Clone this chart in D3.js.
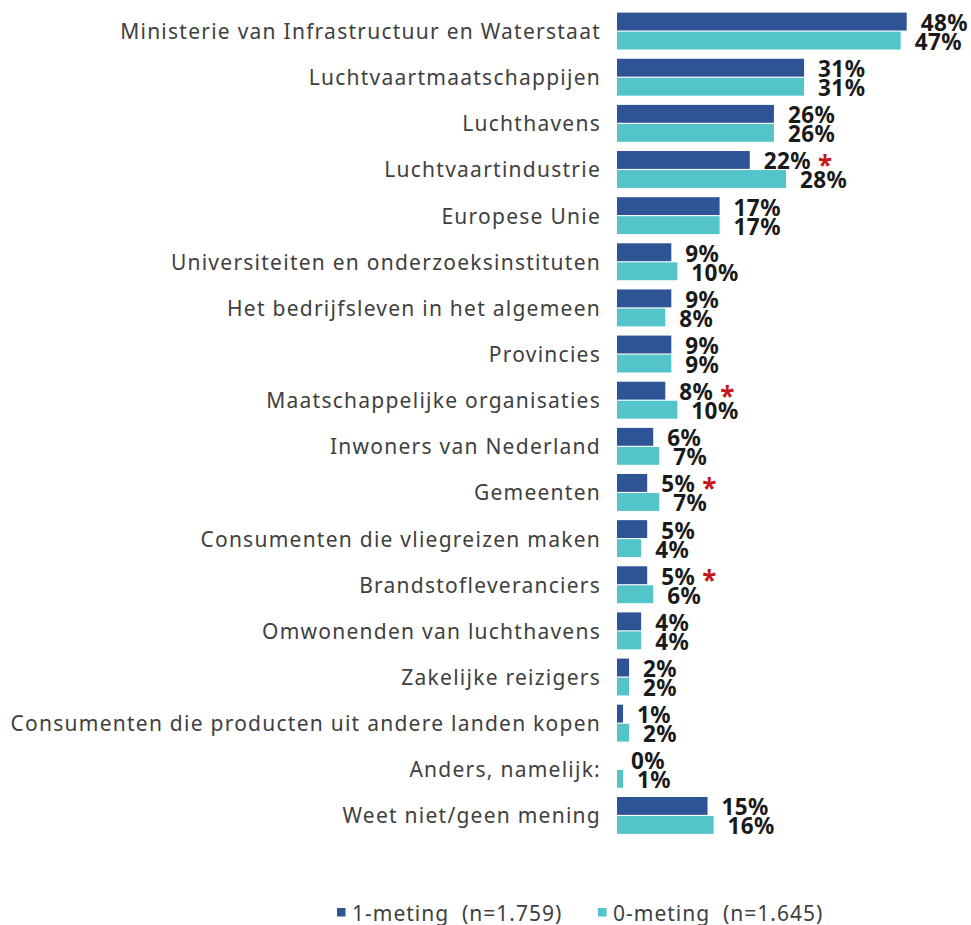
<!DOCTYPE html>
<html>
<head>
<meta charset="utf-8">
<script src="https://cdn.jsdelivr.net/npm/d3@7"></script>
<style>
  html, body { margin: 0; padding: 0; background: #ffffff; }
  svg { display: block; }
</style>
</head>
<body>
<div id="chart"></div>
<script>
const categories = [
  "Ministerie van Infrastructuur en Waterstaat",
  "Luchtvaartmaatschappijen",
  "Luchthavens",
  "Luchtvaartindustrie",
  "Europese Unie",
  "Universiteiten en onderzoeksinstituten",
  "Het bedrijfsleven in het algemeen",
  "Provincies",
  "Maatschappelijke organisaties",
  "Inwoners van Nederland",
  "Gemeenten",
  "Consumenten die vliegreizen maken",
  "Brandstofleveranciers",
  "Omwonenden van luchthavens",
  "Zakelijke reizigers",
  "Consumenten die producten uit andere landen kopen",
  "Anders, namelijk:",
  "Weet niet/geen mening"
];
const meting1 = [48, 31, 26, 22, 17, 9, 9, 9, 8, 6, 5, 5, 5, 4, 2, 1, 0, 15];
const meting0 = [47, 31, 26, 28, 17, 10, 8, 9, 10, 7, 7, 4, 6, 4, 2, 2, 1, 16];
const significant = [false, false, false, true, false, false, false, false, true, false, true, false, true, false, false, false, false, false];
const seriesNames = ["1-meting  (n=1.759)", "0-meting  (n=1.645)"];

const W = 971, H = 925;
const colors = ["#2E5495", "#52C4CA"];
const FONT = "'Noto Sans', 'Open Sans', sans-serif";

const svg = d3.select("#chart").append("svg").attr("width", W).attr("height", H);

const x = d3.scaleLinear().domain([0, 48]).range([617, 906.7]);
const y = d3.scaleBand().domain(categories).range([8, 838.5]).paddingInner(0.2).paddingOuter(0.1);
const inner = d3.scaleBand().domain([0, 1]).range([0, y.bandwidth()]).paddingInner(0.06);

const rows = categories.map((c, i) => ({ c, i, vals: [meting1[i], meting0[i]], sig: significant[i] }));

// category labels
svg.append("g").selectAll("text").data(rows).join("text")
  .attr("x", 601)
  .attr("y", d => y(d.c) + y.bandwidth() / 2)
  .attr("text-anchor", "end")
  .attr("dominant-baseline", "central")
  .attr("font-family", FONT)
  .attr("font-size", 21)
  .attr("letter-spacing", 1.25)
  .attr("fill", "#404040")
  .text(d => d.c);

const g = svg.append("g").selectAll("g").data(rows).join("g")
  .attr("transform", d => `translate(0,${y(d.c)})`);

g.selectAll("rect").data(d => d.vals.map((v, s) => ({ v, s }))).join("rect")
  .attr("x", x(0))
  .attr("y", d => inner(d.s))
  .attr("width", d => x(d.v) - x(0))
  .attr("height", inner.bandwidth())
  .attr("fill", d => colors[d.s]);

g.each(function(d) {
  const gg = d3.select(this);
  d.vals.forEach((v, s) => {
    const t = gg.append("text")
      .attr("x", x(v) + 14)
      .attr("y", inner(s) + inner.bandwidth() / 2 + 1)
      .attr("dominant-baseline", "central")
      .attr("font-family", FONT)
      .attr("font-size", 22.5)
      .attr("letter-spacing", 0.4)
      .attr("font-weight", "bold")
      .attr("fill", "#1a1a1a")
      .text(v + "%");
    if (s === 0 && d.sig) {
      const bb = t.node().getBBox();
      gg.append("text")
        .attr("x", bb.x + bb.width + 7)
        .attr("y", inner(s) + inner.bandwidth() / 2 + 15)
        .attr("font-family", FONT)
        .attr("font-size", 26)
        .attr("font-weight", "bold")
        .attr("fill", "#C8161D")
        .text("*");
    }
  });
});

// legend
const legend = svg.append("g");
const legX = [337, 598];
seriesNames.forEach((n, s) => {
  legend.append("rect")
    .attr("x", legX[s]).attr("y", 908)
    .attr("width", 8.5).attr("height", 8.5)
    .attr("fill", colors[s]);
  legend.append("text")
    .attr("x", legX[s] + 15).attr("y", 912.5)
    .attr("dominant-baseline", "central")
    .attr("font-family", FONT)
    .attr("font-size", 21)
    .attr("letter-spacing", 1.0)
    .attr("fill", "#404040")
    .style("white-space", "pre")
    .text(n);
});
</script>
</body>
</html>
